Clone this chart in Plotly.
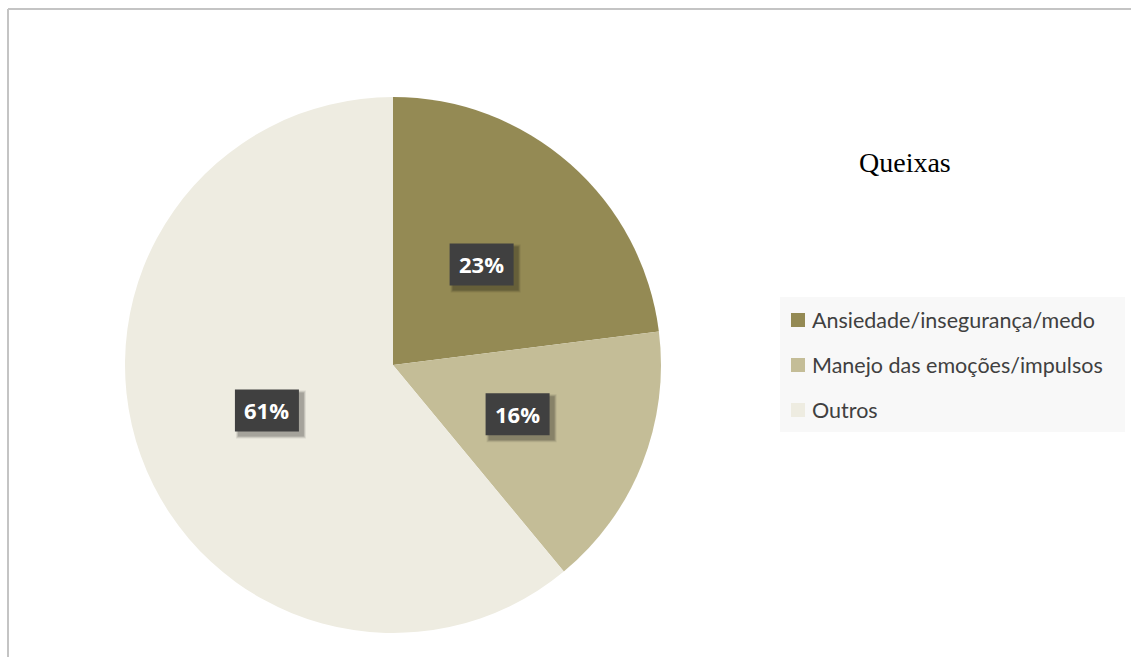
import math
import plotly.graph_objects as go

categories = ["Ansiedade/insegurança/medo", "Manejo das emoções/impulsos", "Outros"]
values = [23, 16, 61]
colors = ["#948A54", "#C4BD97", "#EEECE1"]
title_text = "Queixas"

W, H = 1131, 657
# pie domain (pixels)
px0, px1 = 125, 661
py0, py1 = 97, 633
cx, cy = (px0 + px1) / 2, (py0 + py1) / 2
R = (px1 - px0) / 2

fig = go.Figure(go.Pie(
    labels=categories, values=values, sort=False, direction="clockwise",
    rotation=0, marker=dict(colors=colors, line=dict(width=0)),
    textinfo="none", hoverinfo="label+percent", showlegend=False,
    domain=dict(x=[px0 / W, px1 / W], y=[1 - py1 / H, 1 - py0 / H]),
))

shapes = []
annotations = []
total = sum(values)
cum = 0
bw, bh = 64, 42
for v in values:
    mid = (cum + v / 2) / total * 2 * math.pi
    cum += v
    lx = cx + 0.5 * R * math.sin(mid)
    ly = cy - 0.5 * R * math.cos(mid)
    pct = f"{round(v / total * 100)}%"
    # shadow
    for k, a in ((6, 0.08), (4, 0.12), (2, 0.14)):
        shapes.append(dict(type="rect", xref="paper", yref="paper",
                           x0=(lx - bw / 2 + 4 - k / 2) / W, x1=(lx + bw / 2 + 4 + k / 2) / W,
                           y0=1 - (ly + bh / 2 + 4 + k / 2) / H, y1=1 - (ly - bh / 2 + 4 - k / 2) / H,
                           fillcolor=f"rgba(0,0,0,{a})", line=dict(width=0)))
    shapes.append(dict(type="rect", xref="paper", yref="paper",
                       x0=(lx - bw / 2) / W, x1=(lx + bw / 2) / W,
                       y0=1 - (ly + bh / 2) / H, y1=1 - (ly - bh / 2) / H,
                       fillcolor="#404040", line=dict(width=0)))
    annotations.append(dict(xref="paper", yref="paper", x=lx / W, y=1 - ly / H,
                            xanchor="center", yanchor="middle", showarrow=False,
                            text=f"<b>{pct}</b>",
                            font=dict(family="Open Sans", size=22, color="white")))

# title
annotations.append(dict(xref="paper", yref="paper", x=905 / W, y=1 - 163 / H, text=title_text,
                        xanchor="center", yanchor="middle",
                        showarrow=False, font=dict(family="Liberation Serif", size=28, color="black")))

# legend (manual)
shapes.append(dict(type="rect", xref="paper", yref="paper", x0=780 / W, x1=1125 / W,
                   y0=1 - 432 / H, y1=1 - 297 / H, fillcolor="#F8F8F8", line=dict(width=0), layer="below"))
for i, (c, col) in enumerate(zip(categories, colors)):
    yy = 320 + i * 45
    shapes.append(dict(type="rect", xref="paper", yref="paper", x0=791 / W, x1=805 / W,
                       y0=1 - (yy + 7) / H, y1=1 - (yy - 7) / H, fillcolor=col, line=dict(width=0)))
    annotations.append(dict(xref="paper", yref="paper", x=810 / W, y=1 - yy / H, text=c,
                            xanchor="left", yanchor="middle", showarrow=False,
                            font=dict(family="Lato", size=21.5, color="#404040")))

# border
shapes.append(dict(type="line", xref="paper", yref="paper", x0=8 / W, x1=1, y0=1 - 9 / H, y1=1 - 9 / H,
                   line=dict(color="#C4C4C4", width=2)))
shapes.append(dict(type="line", xref="paper", yref="paper", x0=8 / W, x1=8 / W, y0=0, y1=1 - 9 / H,
                   line=dict(color="#C4C4C4", width=2)))

fig.update_layout(width=W, height=H, margin=dict(l=0, r=0, t=0, b=0),
                  paper_bgcolor="white", plot_bgcolor="white",
                  shapes=shapes, annotations=annotations)
fig.write_html("out.html")
